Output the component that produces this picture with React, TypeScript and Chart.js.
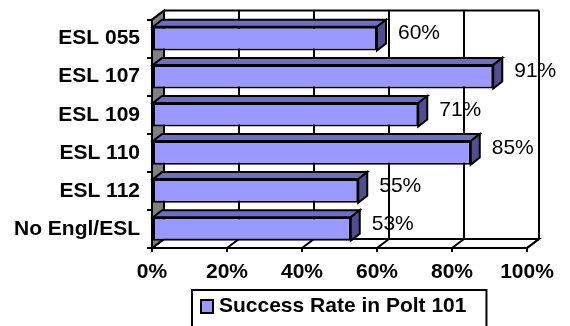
import React, { useEffect, useRef } from "react";
import { Chart, registerables } from "chart.js";

Chart.register(...registerables);

// Courses (top to bottom) and their success rates, in percent
const courses = ["ESL 055", "ESL 107", "ESL 109", "ESL 110", "ESL 112", "No Engl/ESL"];
const successRates = [60, 91, 71, 85, 55, 53];
const percentTicks = [0, 20, 40, 60, 80, 100];
const seriesName = "Success Rate in Polt 101";

const FONT = '"Liberation Sans", Arial, Helvetica, sans-serif';
const FRONT_FILL = "#9999FF";
const TOP_FILL = "#6E6EC4";
const SIDE_FILL = "#4E4E90";
const WALL_GRAY = "#808080";

// Depth offsets of the walls and of the bars (pseudo-3D projection)
const WALL_DX = 12;
const WALL_DY = -9;
const BAR_DX = 9;
const BAR_DY = -7;

function poly(ctx: CanvasRenderingContext2D, pts: number[][], fill: string) {
  ctx.beginPath();
  ctx.moveTo(pts[0][0], pts[0][1]);
  for (let i = 1; i < pts.length; i++) ctx.lineTo(pts[i][0], pts[i][1]);
  ctx.closePath();
  ctx.fillStyle = fill;
  ctx.fill();
  ctx.stroke();
}

function seg(ctx: CanvasRenderingContext2D, x1: number, y1: number, x2: number, y2: number) {
  ctx.beginPath();
  ctx.moveTo(x1, y1);
  ctx.lineTo(x2, y2);
  ctx.stroke();
}

const depthPlugin = {
  id: "depth3d",
  beforeDraw(chart: any) {
    const { ctx, chartArea: a } = chart;
    const xs = chart.scales.x;
    const L = a.left, R = a.right, T = a.top, B = a.bottom;
    ctx.save();
    ctx.lineWidth = 2;
    ctx.strokeStyle = "#000";
    ctx.lineJoin = "miter";

    // back wall
    ctx.fillStyle = "#fff";
    ctx.fillRect(L + WALL_DX, T + WALL_DY, R - L, B - T);
    for (const v of percentTicks) {
      const px = xs.getPixelForValue(v) + WALL_DX;
      seg(ctx, px, T + WALL_DY, px, B + WALL_DY);
    }
    seg(ctx, L + WALL_DX, T + WALL_DY, R + WALL_DX, T + WALL_DY);

    // floor
    poly(ctx, [[L, B], [R, B], [R + WALL_DX, B + WALL_DY], [L + WALL_DX, B + WALL_DY]], "#fff");
    for (const v of percentTicks) {
      const px = xs.getPixelForValue(v);
      seg(ctx, px, B, px + WALL_DX, B + WALL_DY);
    }

    // left side wall
    poly(ctx, [[L, T], [L + WALL_DX, T + WALL_DY], [L + WALL_DX, B + WALL_DY], [L, B]], WALL_GRAY);
    ctx.restore();
  },
  beforeDatasetsDraw(chart: any) {
    const { ctx } = chart;
    const meta = chart.getDatasetMeta(0);
    ctx.save();
    ctx.lineWidth = 2;
    ctx.strokeStyle = "#000";
    ctx.lineJoin = "miter";
    for (const el of meta.data) {
      const { x, y, base, height } = el.getProps(["x", "y", "base", "height"], true);
      const top = y - height / 2;
      const bottom = y + height / 2;
      // top face
      poly(ctx, [[base, top], [base + BAR_DX, top + BAR_DY], [x + BAR_DX, top + BAR_DY], [x, top]], TOP_FILL);
      // end face
      poly(ctx, [[x, top], [x + BAR_DX, top + BAR_DY], [x + BAR_DX, bottom + BAR_DY], [x, bottom]], SIDE_FILL);
    }
    ctx.restore();
  },
  afterDatasetsDraw(chart: any) {
    const { ctx } = chart;
    const meta = chart.getDatasetMeta(0);
    const values = chart.data.datasets[0].data as number[];
    ctx.save();
    ctx.font = `21px ${FONT}`;
    ctx.fillStyle = "#000";
    ctx.textAlign = "left";
    ctx.textBaseline = "middle";
    meta.data.forEach((el: any, i: number) => {
      ctx.fillText(`${values[i]}%`, el.x + 21, el.y - 5);
    });
    ctx.restore();
  },
  afterDraw(chart: any) {
    const { ctx, chartArea: a } = chart;
    const ds = chart.data.datasets[0];
    ctx.save();
    ctx.font = `bold 21px ${FONT}`;
    const tw = ctx.measureText(ds.label).width;
    const boxW = tw + 47;
    const bx = Math.round((a.left + a.right) / 2 - boxW / 2);
    const by = a.bottom + 42;
    ctx.lineWidth = 2;
    ctx.strokeStyle = "#000";
    ctx.fillStyle = "#fff";
    ctx.fillRect(bx, by, boxW, 60);
    ctx.strokeRect(bx, by, boxW, 60);
    ctx.fillStyle = ds.backgroundColor;
    ctx.fillRect(bx + 9, by + 10, 12, 13);
    ctx.strokeRect(bx + 9, by + 10, 12, 13);
    ctx.fillStyle = "#000";
    ctx.textAlign = "left";
    ctx.textBaseline = "middle";
    ctx.fillText(ds.label, bx + 27, by + 16);
    ctx.restore();
  },
};

export default function App() {
  const canvasRef = useRef<HTMLCanvasElement | null>(null);

  useEffect(() => {
    if (!canvasRef.current) return;
    const chart = new Chart(canvasRef.current, {
      type: "bar",
      data: {
        labels: courses,
        datasets: [
          {
            label: seriesName,
            data: successRates,
            backgroundColor: FRONT_FILL,
            borderColor: "#000",
            borderWidth: 2,
            borderSkipped: false,
            barPercentage: 0.62,
            categoryPercentage: 1,
          },
        ],
      },
      options: {
        indexAxis: "y",
        animation: false,
        responsive: true,
        maintainAspectRatio: false,
        layout: { padding: { left: 0, top: 19, right: 43, bottom: 0 } },
        plugins: {
          legend: { display: false },
          tooltip: { enabled: false },
        },
        scales: {
          x: {
            min: 0,
            max: 100,
            afterBuildTicks: (s: any) => {
              s.ticks = percentTicks.map((v) => ({ value: v }));
            },
            afterFit: (s: any) => {
              s.height = 78;
            },
            ticks: {
              callback: (v: any) => `${v}%`,
              color: "#000",
              font: { family: FONT, size: 21, weight: "bold" },
              padding: 8,
              maxRotation: 0,
              autoSkip: false,
            },
            grid: {
              drawOnChartArea: false,
              drawTicks: true,
              tickLength: 4,
              color: "#000",
              lineWidth: 2,
            },
            border: { display: true, color: "#000", width: 2 },
          },
          y: {
            afterFit: (s: any) => {
              s.width = 152;
            },
            ticks: {
              color: "#000",
              font: { family: FONT, size: 21, weight: "bold" },
              padding: 7,
              autoSkip: false,
            },
            grid: {
              drawOnChartArea: false,
              drawTicks: true,
              tickLength: 5,
              color: "#000",
              lineWidth: 2,
            },
            border: { display: true, color: "#000", width: 2 },
          },
        },
      },
      plugins: [depthPlugin],
    } as any);
    return () => chart.destroy();
  }, []);

  return (
    <div style={{ position: "absolute", left: 0, top: 0, width: 570, height: 326, background: "#fff" }}>
      <canvas ref={canvasRef} />
    </div>
  );
}
